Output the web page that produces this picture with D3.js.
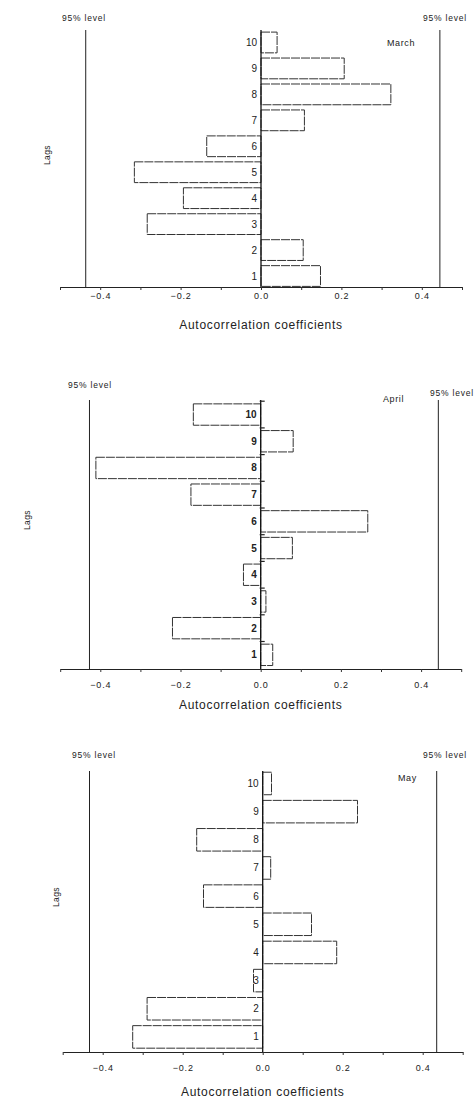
<!DOCTYPE html>
<html>
<head>
<meta charset="utf-8">
<script src="https://cdn.jsdelivr.net/npm/d3@7"></script>
<style>
  html, body { margin: 0; padding: 0; background: #fff; }
  svg { display: block; }
  text { font-family: "Liberation Sans", Arial, sans-serif; fill: #222; }
</style>
</head>
<body>
<svg id="chart" width="475" height="1098"></svg>
<script>
// ---- data ----
const lags = [1, 2, 3, 4, 5, 6, 7, 8, 9, 10];
const months = ["March", "April", "May"];
const marchValues = [0.148, 0.105, -0.283, -0.193, -0.315, -0.135, 0.108, 0.323, 0.207, 0.040];
const aprilValues = [0.030, -0.220, 0.013, -0.043, 0.079, 0.267, -0.174, -0.411, 0.081, -0.168];
const mayValues   = [-0.325, -0.289, -0.023, 0.185, 0.122, -0.148, 0.020, -0.165, 0.237, 0.022];
const marchLevel = [-0.436, 0.445];
const aprilLevel = [-0.427, 0.443];
const mayLevel   = [-0.433, 0.435];
const xDomain = [-0.5, 0.5];
const xMajorTicks = [-0.4, -0.2, 0.0, 0.2, 0.4];
const xMinorTicks = [-0.5, -0.4, -0.3, -0.2, -0.1, 0.0, 0.1, 0.2, 0.3, 0.4, 0.5];
const levelLabel = "95% level";
const xTitle = "Autocorrelation coefficients";
const yTitle = "Lags";

const seriesValues = [marchValues, aprilValues, mayValues];
const seriesLevels = [marchLevel, aprilLevel, mayLevel];

// ---- layout (pixel geometry per panel) ----
const layout = [
  { x0: 60.0, x1: 462.0, yBot: 289.0, yTop: 29.5, base: 287, lineTop: 30,
    lvlL: [62, 21], lvlR: [423, 21], month: [387, 46], tickY: 298.5, titleY: 329, lagsXY: [50, 155], boundTicks: false },
  { x0: 60.2, x1: 461.2, yBot: 668.2, yTop: 401.2, base: 669, lineTop: 400,
    lvlL: [68, 388], lvlR: [430, 396], month: [383, 402], tickY: 687.5, titleY: 709, lagsXY: [30, 520], boundTicks: true },
  { x0: 62.7, x1: 462.7, yBot: 1051, yTop: 769.4, base: 1052, lineTop: 771,
    lvlL: [72, 758], lvlR: [423, 758], month: [398, 781], tickY: 1070.5, titleY: 1096, lagsXY: [59, 897], boundTicks: false }
];

const svg = d3.select("#chart");
const fmt = d3.format(".1f");

months.forEach((month, i) => {
  const L = layout[i];
  const values = seriesValues[i];
  const level = seriesLevels[i];
  const g = svg.append("g");

  const x = d3.scaleLinear().domain(xDomain).range([L.x0, L.x1]);
  const y = d3.scaleBand().domain(lags).range([L.yBot, L.yTop])
    .paddingInner(0.2).paddingOuter(0.1);

  // x axis
  const axis = d3.axisBottom(x).tickValues(xMinorTicks).tickSize(3).tickSizeOuter(0)
    .tickFormat(d => xMajorTicks.some(t => Math.abs(t - d) < 1e-9) ? fmt(d) : "");
  const ax = g.append("g").attr("transform", `translate(0,${L.base})`).call(axis);
  ax.select(".domain").attr("stroke", "#222").attr("stroke-width", 1.2);
  ax.selectAll(".tick line").attr("stroke", "#333");
  ax.selectAll(".tick text").attr("y", L.tickY - L.base).attr("dy", 0)
    .attr("font-size", 9).attr("letter-spacing", 0.8)
    .style("font-family", '"Liberation Sans", Arial, sans-serif').attr("fill", "#222");

  // 95% level lines
  g.selectAll(".lvl").data(level).enter().append("line")
    .attr("x1", d => x(d)).attr("x2", d => x(d))
    .attr("y1", L.lineTop).attr("y2", L.base)
    .attr("stroke", "#222").attr("stroke-width", 1);

  // bars
  g.selectAll(".bar").data(lags).enter().append("rect")
    .attr("x", (d, j) => Math.min(x(0), x(values[j])))
    .attr("width", (d, j) => Math.abs(x(values[j]) - x(0)))
    .attr("y", d => y(d))
    .attr("height", y.bandwidth())
    .attr("fill", "#fff")
    .attr("stroke", "#333").attr("stroke-width", 1)
    .attr("stroke-dasharray", "9,1");

  // zero line
  g.append("line").attr("x1", x(0)).attr("x2", x(0))
    .attr("y1", L.lineTop).attr("y2", L.base)
    .attr("stroke", "#111").attr("stroke-width", 1.3);

  if (L.boundTicks) {
    const bounds = lags.map(d => y(d) - y.step() * 0.1);
    g.selectAll(".bt").data(bounds).enter().append("line")
      .attr("x1", x(0) - 1).attr("x2", x(0) + 4)
      .attr("y1", d => d).attr("y2", d => d)
      .attr("stroke", "#222").attr("stroke-width", 1.2);
  }

  // lag labels
  g.selectAll(".lag").data(lags).enter().append("text")
    .attr("x", x(0) - 4)
    .attr("y", d => y(d) + y.bandwidth() / 2 + 3.5)
    .attr("text-anchor", "end")
    .attr("font-size", 10)
    .attr("font-weight", i === 1 ? "bold" : "normal")
    .text(d => d);

  // 95% level labels
  g.append("text").attr("x", L.lvlL[0]).attr("y", L.lvlL[1])
    .attr("font-size", 8.5).attr("letter-spacing", 0.8).text(levelLabel);
  g.append("text").attr("x", L.lvlR[0]).attr("y", L.lvlR[1])
    .attr("font-size", 8.5).attr("letter-spacing", 0.8).text(levelLabel);

  // month label
  g.append("text").attr("x", L.month[0]).attr("y", L.month[1])
    .attr("font-size", 9).attr("letter-spacing", 0.6).text(month);

  // x title
  g.append("text").attr("x", x(0)).attr("y", L.titleY)
    .attr("text-anchor", "middle").attr("font-size", 12).attr("letter-spacing", 0.7)
    .text(xTitle);

  // y title
  g.append("text")
    .attr("transform", `translate(${L.lagsXY[0]},${L.lagsXY[1]}) rotate(-90)`)
    .attr("text-anchor", "middle").attr("font-size", 8.5).attr("letter-spacing", 0.4)
    .text(yTitle);
});
</script>
</body>
</html>
